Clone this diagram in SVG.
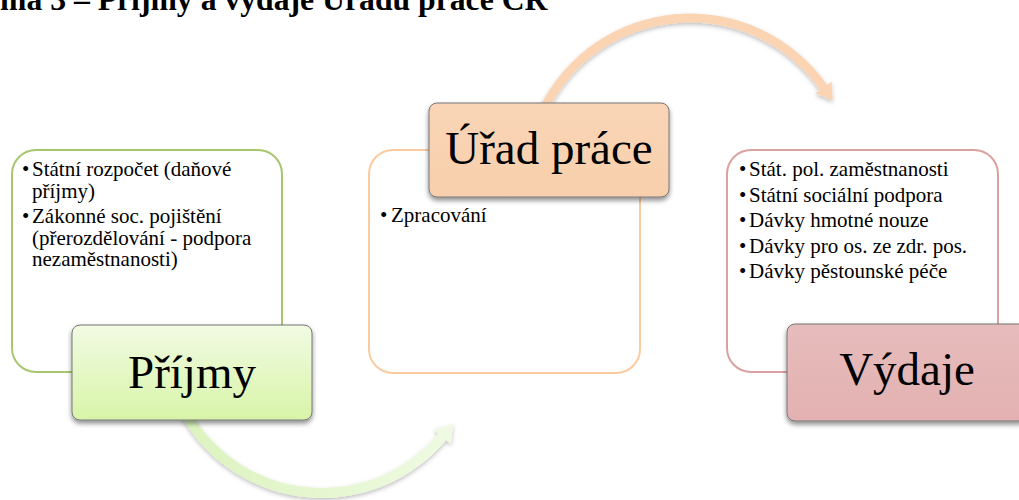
<svg xmlns="http://www.w3.org/2000/svg" width="1019" height="500" viewBox="0 0 1019 500">
  <style>
    .title { font-family: "Liberation Serif", "Times New Roman", serif; font-weight: bold; font-size: 31.7px; fill: #000; }
    .item { font-family: "Liberation Serif", "Times New Roman", serif; font-size: 21px; fill: #000; }
    .head { font-family: "Liberation Serif", "Times New Roman", serif; font-size: 47px; fill: #000; text-anchor: middle; }
    .panel { fill: #fff; stroke-width: 2; }
    .badge { stroke: #767676; stroke-width: 1; filter: url(#shadow); }
  </style>
  <defs>
    <filter id="shadow" x="-10%" y="-10%" width="120%" height="140%">
      <feDropShadow dx="0" dy="3" stdDeviation="2.5" flood-color="#000" flood-opacity="0.45"/>
    </filter>
    <filter id="arrowShadow" x="-10%" y="-20%" width="120%" height="150%">
      <feDropShadow dx="0" dy="2" stdDeviation="2" flood-color="#000" flood-opacity="0.25"/>
    </filter>
    <linearGradient id="greenFill" x1="0" y1="0" x2="0" y2="1">
      <stop offset="0" stop-color="#F1FBE3"/>
      <stop offset="1" stop-color="#D8F4A8"/>
    </linearGradient>
    <linearGradient id="peachFill" x1="0" y1="0" x2="0" y2="1">
      <stop offset="0" stop-color="#F9D5B6"/>
      <stop offset="1" stop-color="#F8CFAC"/>
    </linearGradient>
    <linearGradient id="roseFill" x1="0" y1="0" x2="0" y2="1">
      <stop offset="0" stop-color="#E7BCBC"/>
      <stop offset="1" stop-color="#E3B1B1"/>
    </linearGradient>
    <linearGradient id="greenArrow" x1="0" y1="0" x2="1" y2="0">
      <stop offset="0" stop-color="#DCF3BE"/>
      <stop offset="1" stop-color="#EFFAE2"/>
    </linearGradient>
  </defs>

  <!-- heading, partly above the top edge -->
  <text class="title" x="0" y="10">ma 3 – Příjmy a výdaje Úřadu práce ČR</text>

  <!-- curved arrows between the stages -->
  <g id="connectors">
    <path id="arrow-prijmy-urad" filter="url(#arrowShadow)" fill="url(#greenArrow)"
          d="M181.7,417 A162,162 0 0 0 446.1,440.1 L450.7,444 L453.2,423.9 L433.8,429.8 L438.4,433.7 A152,152 0 0 1 190.4,412 Z"/>
    <path id="arrow-urad-vydaje" filter="url(#arrowShadow)" fill="#FBD4B4"
          d="M539.5,107.6 A167.5,167.5 0 0 1 827.2,84.9 L831.7,81.8 L832.7,100.6 L815.3,93.2 L819.8,90.1 A158.5,158.5 0 0 0 547.5,111.5 Z"/>
  </g>

  <!-- income -->
  <g id="node-prijmy">
    <rect class="panel" x="12" y="150" width="270" height="222" rx="24" stroke="#A7C76E"/>
    <text class="item"><tspan x="22" y="176">•</tspan><tspan x="32" y="176">Státní rozpočet (daňové</tspan><tspan x="32" y="197.5">příjmy)</tspan></text>
    <text class="item"><tspan x="22" y="223">•</tspan><tspan x="32" y="223">Zákonné soc. pojištění</tspan><tspan x="32" y="244.5">(přerozdělování - podpora</tspan><tspan x="32" y="266">nezaměstnanosti)</tspan></text>
    <rect class="badge" x="72" y="325" width="240" height="95" rx="8" fill="url(#greenFill)"/>
    <text class="head" x="192" y="388">Příjmy</text>
  </g>

  <!-- labour office -->
  <g id="node-urad">
    <rect class="panel" x="369" y="150" width="271" height="223" rx="24" stroke="#FBCA9F"/>
    <text class="item"><tspan x="380" y="222">•</tspan><tspan x="391" y="222">Zpracování</tspan></text>
    <rect class="badge" x="429" y="103" width="240" height="94" rx="8" fill="url(#peachFill)"/>
    <text class="head" x="549" y="164">Úřad práce</text>
  </g>

  <!-- expenditure -->
  <g id="node-vydaje">
    <rect class="panel" x="727" y="150" width="271" height="222" rx="24" stroke="#DBA1A0"/>
    <text class="item"><tspan x="739" y="176">•</tspan><tspan x="749" y="176">Stát. pol. zaměstnanosti</tspan></text>
    <text class="item"><tspan x="739" y="201.5">•</tspan><tspan x="749" y="201.5">Státní sociální podpora</tspan></text>
    <text class="item"><tspan x="739" y="227">•</tspan><tspan x="749" y="227">Dávky hmotné nouze</tspan></text>
    <text class="item"><tspan x="739" y="252.5">•</tspan><tspan x="749" y="252.5">Dávky pro os. ze zdr. pos.</tspan></text>
    <text class="item"><tspan x="739" y="278">•</tspan><tspan x="749" y="278">Dávky pěstounské péče</tspan></text>
    <rect class="badge" x="787" y="324" width="240" height="97" rx="8" fill="url(#roseFill)"/>
    <text class="head" x="907" y="385">Výdaje</text>
  </g>
</svg>
